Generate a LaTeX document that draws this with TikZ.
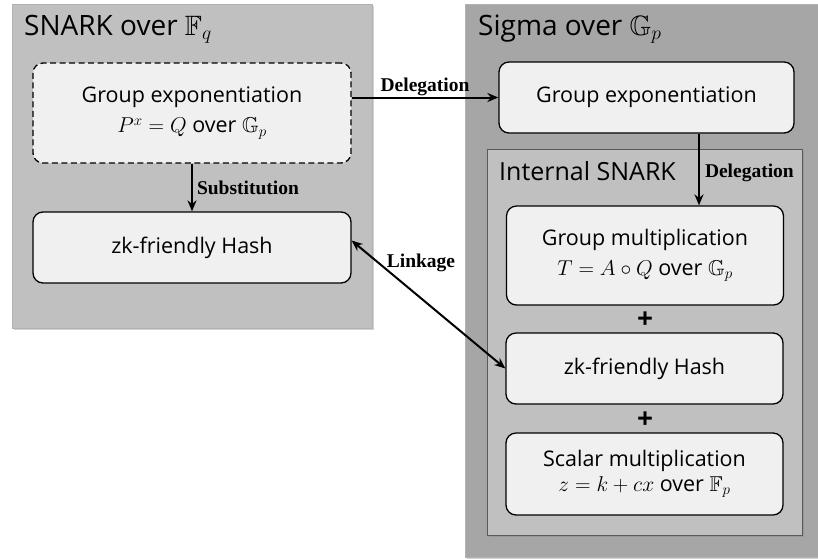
\RequirePackage{fix-cm}
\documentclass[tikz,border=0pt]{standalone}
\usepackage{amssymb}
\usepackage{fontspec}
\setmainfont{Open Sans}
\newfontfamily\lblfont{Liberation Serif}
\usetikzlibrary{arrows.meta,calc,shadows}
\definecolor{panelA}{HTML}{C0C0C0}
\definecolor{panelB}{HTML}{A6A6A6}
\definecolor{boxfill}{HTML}{F0F0F0}
\begin{document}
\begin{tikzpicture}[x=1pt,y=-1pt,
  panel/.style={draw=black!30,line width=0.5pt,inner sep=0pt,
    drop shadow={shadow xshift=2pt,shadow yshift=-2pt,opacity=0.35}},
  opbox/.style={draw=black,line width=1.3pt,fill=boxfill,rounded corners=10pt,
    inner sep=0pt,align=center,font=\fontsize{21.5}{29}\selectfont},
  ttl/.style={anchor=base west,inner sep=0pt,font=\fontsize{28}{32}\selectfont},
  lbl/.style={font=\lblfont\bfseries\fontsize{19.5}{22}\selectfont,inner sep=1pt},
  conn/.style={line width=2pt,-{Stealth[length=11pt,width=9pt]}}]
\useasboundingbox (0,0) rectangle (818,558);
\fill[white] (0,0) rectangle (818,558);
% panels
\node[panel,fill=panelA,minimum width=360pt,minimum height=324pt] (lpanel) at (192,166) {};
\node[panel,fill=panelB,minimum width=360pt,minimum height=553pt] (rpanel) at (645,280.5) {};
\node[panel,fill=panelA,draw=black!65,line width=0.8pt,minimum width=315pt,minimum height=386pt] (internal) at (644.5,342) {};
% titles
\node[ttl] (tl) at (24,35) {SNARK over $\mathbb{F}_q$};
\node[ttl] (tr) at (478,35) {Sigma over $\mathbb{G}_p$};
\node[ttl,font=\fontsize{25}{30}\selectfont] (ti) at (499,180) {Internal SNARK};
% boxes
\node[opbox,dash pattern=on 6pt off 3.5pt,minimum width=318pt,minimum height=100pt] (gexpL) at (192,113)
  {Group exponentiation\\[1pt] $P^x = Q$ over $\mathbb{G}_p$};
\node[opbox,minimum width=318pt,minimum height=71pt] (hashL) at (192,247.5) {zk-friendly Hash};
\node[opbox,minimum width=295pt,minimum height=71pt] (gexpR) at (646.5,97.5) {Group exponentiation};
\node[opbox,minimum width=277pt,minimum height=99pt] (gmul) at (645,255.5)
  {Group multiplication\\[1pt] $T = A \circ Q$ over $\mathbb{G}_p$};
\node[opbox,minimum width=277pt,minimum height=71pt] (hashR) at (644.5,368.5) {zk-friendly Hash};
\node[opbox,minimum width=277pt,minimum height=82pt] (scalar) at (644.5,474)
  {Scalar multiplication\\[-4pt] $z = k + cx$ over $\mathbb{F}_p$};
\node[font=\bfseries\fontsize{28}{28}\selectfont,inner sep=0pt] (plus1) at (645,320) {+};
\node[font=\bfseries\fontsize{28}{28}\selectfont,inner sep=0pt] (plus2) at (645,420) {+};
% connectors
\draw[conn] (gexpL.east |- gexpR.west) -- node[lbl,above] {Delegation} (gexpR.west);
\draw[conn] (gexpL.south) -- node[lbl,right=3pt] {Substitution} (hashL.north);
\coordinate (dtop) at ($(gexpR.south)+(52.5,0)$);
\draw[conn] (dtop) -- node[lbl,right=4pt,pos=0.55] {Delegation} (dtop |- gmul.north);
\draw[line width=2pt,{Stealth[length=11pt,width=9pt]}-{Stealth[length=11pt,width=9pt]}]
  ([yshift=7pt]hashL.east) -- (hashR.west);
\node[lbl] (lk) at (421,263) {Linkage};
\end{tikzpicture}
\end{document}
